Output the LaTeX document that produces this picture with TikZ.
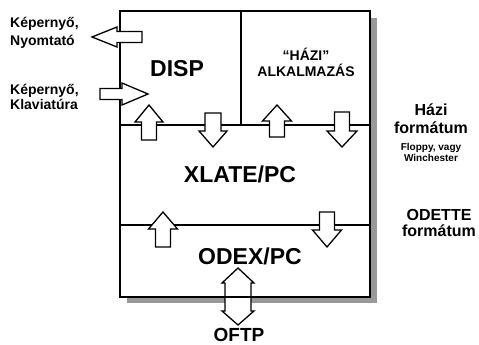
\documentclass[tikz,border=0pt]{standalone}
\usepackage{fontspec}
\setmainfont{Liberation Sans}
\begin{document}
\begin{tikzpicture}[x=1pt,y=-1pt,
  blk/.style={draw=black,fill=white,line width=1.3pt,line join=miter},
  frame/.style={draw=black,line width=1.6pt},
  divider/.style={draw=black,line width=1.2pt},
  shadow/.style={fill=black!40},
  big/.style={inner sep=0pt,anchor=base,font=\bfseries\fontsize{23}{26}\selectfont},
  mid/.style={inner sep=0pt,anchor=base,font=\bfseries\fontsize{16}{18}\selectfont},
  small/.style={inner sep=0pt,anchor=base west,font=\bfseries\fontsize{14}{17}\selectfont},
  tiny/.style={inner sep=0pt,anchor=base,font=\bfseries\fontsize{10}{11}\selectfont},
  app/.style={inner sep=0pt,anchor=base,font=\bfseries\fontsize{14}{16}\selectfont},
]
\newcommand{\BlkArrow}[7]{%
  \begin{scope}[shift={(#1,#2)},rotate=#3]
    \draw[blk] (0,-#7) -- ({#4-#5},-#7) -- ({#4-#5},-#6) -- (#4,0) -- ({#4-#5},#6) -- ({#4-#5},#7) -- (0,#7) -- cycle;
  \end{scope}}
\useasboundingbox (0,0) rectangle (479,345);
% shadow
\fill[shadow] (370,18) rectangle (377,303);
\fill[shadow] (127,297) rectangle (377,303);
% OFTP double arrow (line crosses it)
\draw[blk] (238,268) -- (254,283) -- (251,283) -- (251,311) -- (254,311) -- (238,325)
  -- (222,311) -- (225,311) -- (225,283) -- (222,283) -- cycle;
% frame
\draw[frame] (120,11) rectangle (370,297);
\draw[divider] (120,125) -- (370,125);
\draw[divider] (241,11) -- (241,125);
\draw[divider] (120,225) -- (370,225);
% horizontal arrows
\BlkArrow{142}{37}{180}{50}{25}{10}{5.5}
\BlkArrow{100}{94}{0}{48}{26}{11}{5.5}
% vertical arrows
\BlkArrow{149}{140}{90}{35}{17}{14}{7.5}
\BlkArrow{213}{113}{-90}{34}{16}{14}{8}
\BlkArrow{277}{137}{90}{32}{16}{14.5}{7.5}
\BlkArrow{342}{112}{-90}{35}{16}{15}{7.5}
\BlkArrow{163}{247}{90}{35}{17}{14.5}{7.5}
\BlkArrow{327}{212}{-90}{35}{17}{14.5}{7.5}
% labels
\node[big] (disp) at (177,77) {DISP};
\node[big] (xlate) at (240,182) {XLATE/PC};
\node[big] (odex) at (250,264) {ODEX/PC};
\node[inner sep=0pt,anchor=base,font=\bfseries\fontsize{19}{22}\selectfont] (oftp) at (239,341) {OFTP};
\node[app] (hazi1) at (306,60) {“HÁZI”};
\node[app] (hazi2) at (306,77) {ALKALMAZÁS};
\node[small] (kep1) at (10,28) {Képernyő,};
\node[small] (kep2) at (10,46) {Nyomtató};
\node[small] (kep3) at (10,94) {Képernyő,};
\node[small] (kep4) at (10,109) {Klaviatúra};
\node[mid] (hf1) at (431,115) {Házi};
\node[mid] (hf2) at (431,133) {formátum};
\node[tiny] (hf3) at (431,150) {Floppy, vagy};
\node[tiny] (hf4) at (431,161) {Winchester};
\node[mid] (od1) at (439,220) {ODETTE};
\node[mid] (od2) at (439,236) {formátum};
\end{tikzpicture}
\end{document}
